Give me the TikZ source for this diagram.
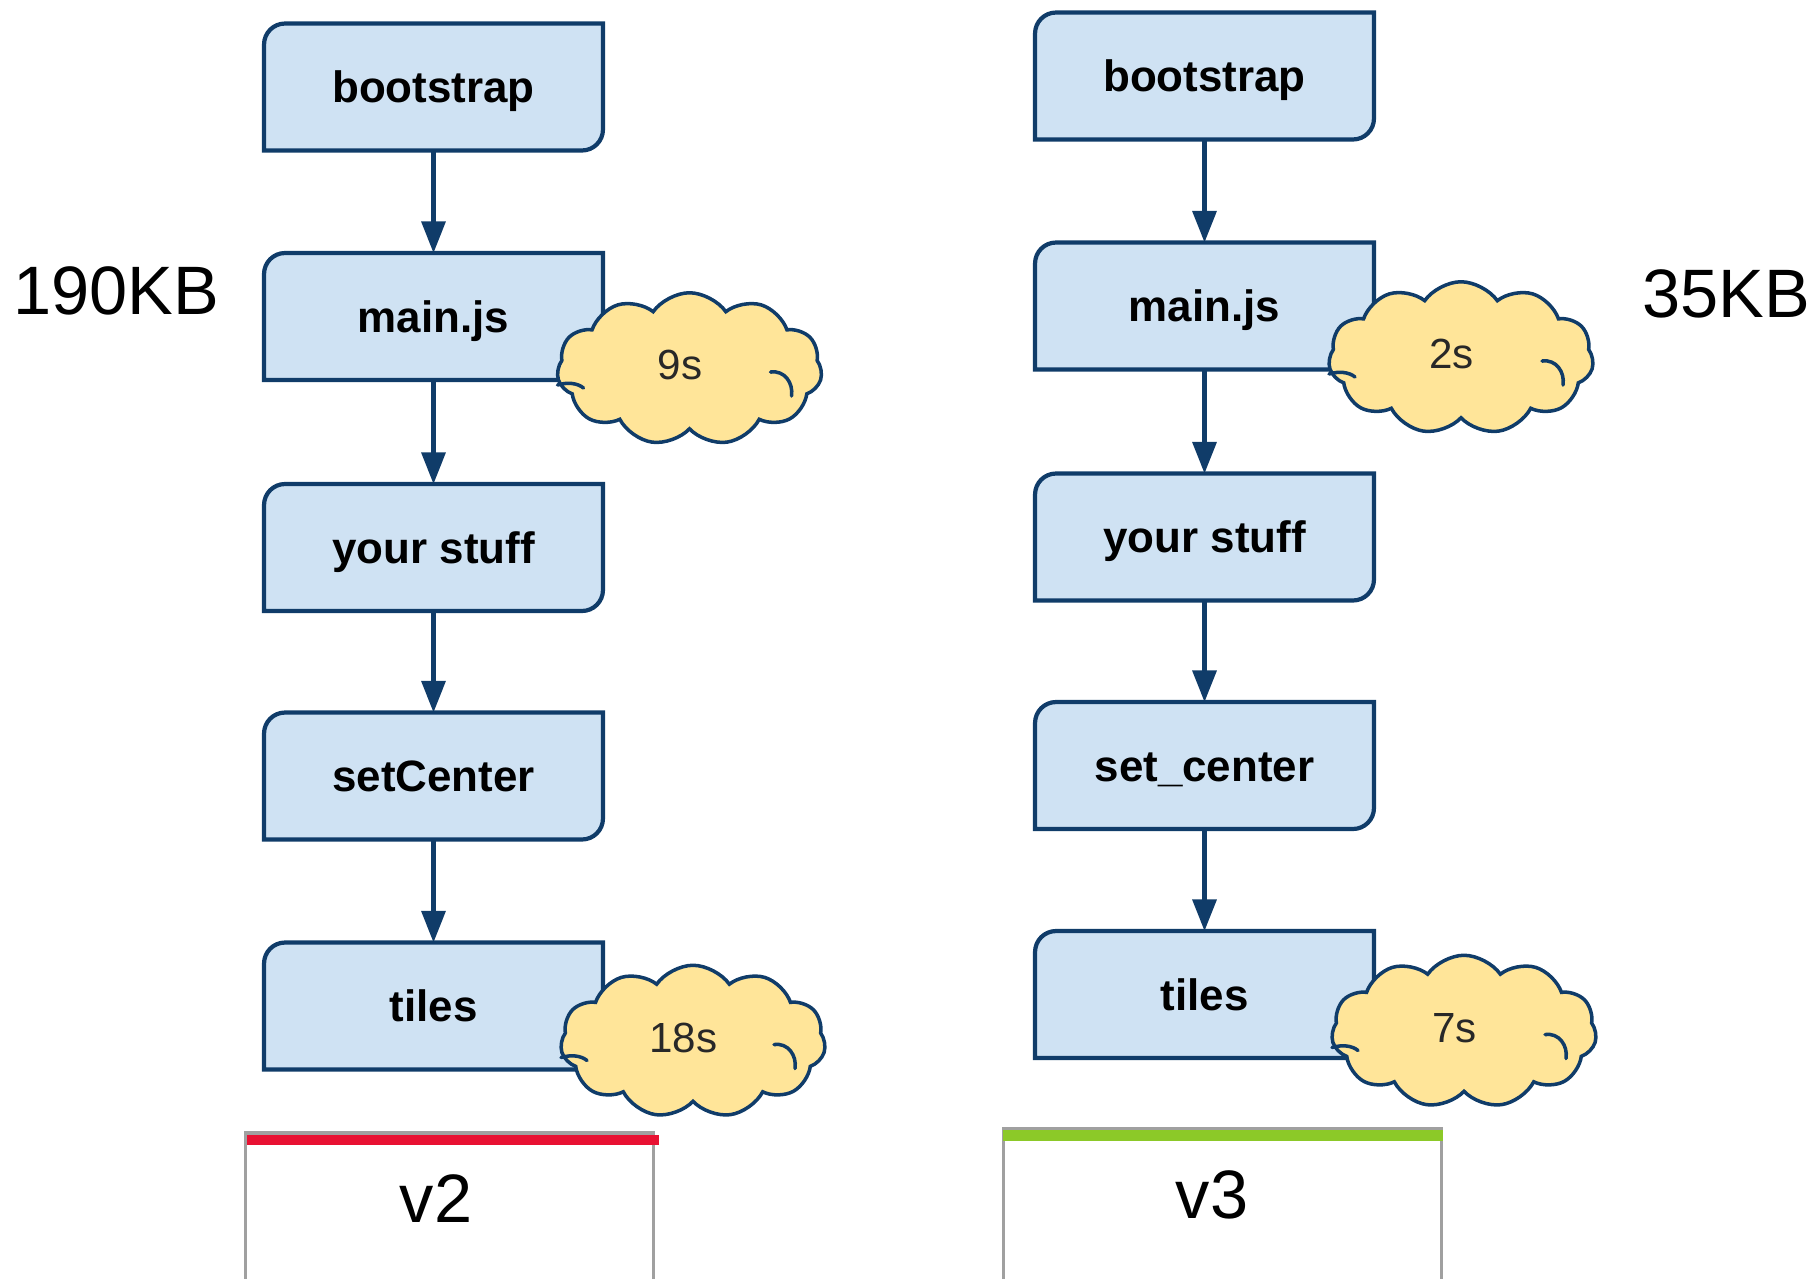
\documentclass[tikz,border=0pt]{standalone}
\usepackage{fontspec}
\setmainfont{Liberation Sans}
\usetikzlibrary{arrows.meta,shapes.symbols,backgrounds}

\definecolor{boxline}{RGB}{16,60,105}
\definecolor{boxfill}{RGB}{207,226,243}
\definecolor{cloudfill}{RGB}{255,229,153}
\definecolor{textgray}{RGB}{40,40,40}
\definecolor{framegray}{RGB}{160,160,160}
\definecolor{slowred}{RGB}{232,17,50}
\definecolor{fastgreen}{RGB}{140,201,40}

\newcommand\crad{0.42cm}
% box with rounded top-left and bottom-right corners
\newcommand\flowshape[1]{%
  \draw[line width=2.4pt, draw=boxline, fill=boxfill]
    (#1.south west) -- ([yshift=-\crad]#1.north west)
    .. controls ([yshift=-0.4477*\crad]#1.north west) and ([xshift=0.4477*\crad]#1.north west) .. ([xshift=\crad]#1.north west)
    -- (#1.north east) -- ([yshift=\crad]#1.south east)
    .. controls ([yshift=0.4477*\crad]#1.south east) and ([xshift=-0.4477*\crad]#1.south east) .. ([xshift=-\crad]#1.south east)
    -- cycle;}

% small inner curls of a cloud
\newcommand\cloudcurls[1]{%
  \draw[boxline, line width=2pt, line cap=round]
    ([shift={(-132,16)}]#1.center) .. controls ([shift={(-122,13)}]#1.center) and ([shift={(-112,14)}]#1.center) .. ([shift={(-106,19)}]#1.center);
  \draw[boxline, line width=2pt, line cap=round]
    ([shift={(81,3)}]#1.center) .. controls ([shift={(95,1)}]#1.center) and ([shift={(104,14)}]#1.center) .. ([shift={(102,27)}]#1.center);}

\tikzset{
  stepbox/.style={minimum width=6.78cm, minimum height=2.54cm, inner sep=0pt, outer sep=0pt,
    text height=19pt, text depth=1pt, font=\bfseries\fontsize{25}{30}\selectfont},
  flow/.style={draw=boxline, line width=2.4pt, -{Triangle[length=18pt,width=13.5pt]}},
  timecloud/.style={cloud, cloud puffs=11, cloud puff arc=110, cloud ignores aspect,
    draw=boxline, line width=2pt, fill=cloudfill, minimum width=5.3cm, minimum height=3.05cm,
    inner sep=0pt, text height=12pt, text depth=0pt, font=\fontsize{24}{28}\selectfont, text=textgray},
  sizelabel/.style={font=\fontsize{39}{46}\selectfont},
  frame/.style={draw=framegray, line width=2.2pt},
}
% cloud label, nudged to the left of the cloud centre
\newcommand\ctext[1]{#1\kern11pt}

\begin{document}
\begin{tikzpicture}[x=0.02cm, y=-0.02cm]
\useasboundingbox (0,0) rectangle (1817,1278);

% v2 flow
\node[stepbox] (l1) at (433.5,87)    {bootstrap};
\node[stepbox] (l2) at (433.5,316.5) {main.js};
\node[stepbox] (l3) at (433.5,547.5) {your stuff};
\node[stepbox] (l4) at (433.5,776)   {setCenter};
\node[stepbox] (l5) at (433.5,1006)  {tiles};

% v3 flow
\node[stepbox] (r1) at (1204.5,76)    {bootstrap};
\node[stepbox] (r2) at (1204.5,306)   {main.js};
\node[stepbox] (r3) at (1204.5,537)   {your stuff};
\node[stepbox] (r4) at (1204.5,765.5) {set\_center};
\node[stepbox] (r5) at (1204.5,994.5) {tiles};

\begin{pgfonlayer}{background}
  \foreach \n in {l1,l2,l3,l4,l5,r1,r2,r3,r4,r5} {\flowshape{\n}}
\end{pgfonlayer}

\draw[flow] (l1.south) -- (l2.north);
\draw[flow] (l2.south) -- (l3.north);
\draw[flow] (l3.south) -- (l4.north);
\draw[flow] (l4.south) -- (l5.north);
\draw[flow] (r1.south) -- (r2.north);
\draw[flow] (r2.south) -- (r3.north);
\draw[flow] (r3.south) -- (r4.north);
\draw[flow] (r4.south) -- (r5.north);

% load times
\node[timecloud] (t1) at (689.5,369)   {\ctext{9s}};
\node[timecloud] (t2) at (693,1041.5)  {\ctext{18s}};
\node[timecloud] (t3) at (1461,358)    {\ctext{2s}};
\node[timecloud] (t4) at (1464,1031.5) {\ctext{7s}};
\foreach \c in {t1,t2,t3,t4} {\cloudcurls{\c}}

% sizes
\node[sizelabel] (s1) at (116,291)  {190KB};
\node[sizelabel] (s2) at (1726,294) {35KB};

% version tabs
\draw[frame] (245.5,1290) -- (245.5,1133) -- (653.5,1133) -- (653.5,1290);
\fill[slowred] (247,1135) rectangle (659,1145);
\node[sizelabel] (v2) at (436,1199) {v2};

\draw[frame] (1003.5,1290) -- (1003.5,1129) -- (1441.5,1129) -- (1441.5,1290);
\fill[fastgreen] (1003,1130) rectangle (1443,1141);
\node[sizelabel] (v3) at (1212,1195) {v3};
\end{tikzpicture}
\end{document}
